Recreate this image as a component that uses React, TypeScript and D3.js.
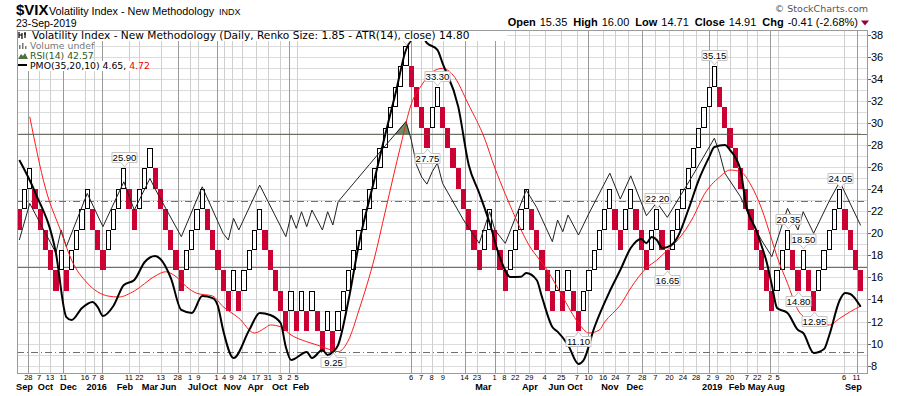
import React from 'react';
import * as d3 from 'd3';

// Renko bricks: close of every brick (size 1.85), the first one opens at 22.20
const firstOpen = 22.2;
const brickSize = 1.85;
const brickCloses = [
  20.35, 24.05, 25.9, 22.2, 20.35, 18.5, 16.65, 14.8, 18.5, 14.8,
  18.5, 20.35, 22.2, 24.05, 20.35, 18.5, 16.65, 20.35, 22.2, 24.05,
  25.9, 22.2, 20.35, 24.05, 25.9, 27.75, 24.05, 22.2, 20.35, 18.5,
  16.65, 14.8, 18.5, 20.35, 22.2, 24.05, 20.35, 18.5, 16.65, 14.8,
  12.95, 16.65, 12.95, 16.65, 18.5, 20.35, 22.2, 18.5, 16.65, 14.8,
  12.95, 11.1, 14.8, 11.1, 14.8, 11.1, 14.8, 11.1, 9.25, 12.95,
  9.25, 12.95, 14.8, 16.65, 18.5, 20.35, 22.2, 24.05, 25.9, 27.75,
  29.6, 31.45, 33.3, 35.15, 37.0, 33.3, 31.45, 29.6, 27.75, 31.45,
  33.3, 29.6, 27.75, 25.9, 24.05, 22.2, 20.35, 18.5, 16.65, 20.35,
  22.2, 18.5, 16.65, 14.8, 18.5, 20.35, 22.2, 24.05, 20.35, 18.5,
  16.65, 14.8, 12.95, 16.65, 12.95, 16.65, 12.95, 11.1, 14.8, 16.65,
  18.5, 20.35, 22.2, 24.05, 20.35, 18.5, 22.2, 24.05, 20.35, 18.5,
  16.65, 20.35, 22.2, 18.5, 16.65, 20.35, 22.2, 24.05, 25.9, 27.75,
  29.6, 31.45, 33.3, 35.15, 31.45, 29.6, 27.75, 25.9, 24.05, 22.2,
  20.35, 18.5, 16.65, 14.8, 12.95, 16.65, 18.5, 20.35, 16.65, 14.8,
  18.5, 14.8, 12.95, 16.65, 18.5, 20.35, 22.2, 24.05, 20.35, 18.5,
  16.65, 14.8,
];

// [brick number, value]
const rsiPoints: [number, number][] = [
  [1, 38.2], [3, 49.2], [8, 34.3], [9, 41.2], [10, 36.2], [14, 52.2], [17, 42.2],
  [21, 55.7], [23, 47.2], [26, 56.7], [27, 53.5], [32, 39.2], [36, 54.2], [40, 40.2],
  [41, 38.2], [42, 44.7], [43, 41.2], [47, 54.7], [52, 39.2], [53, 45.7], [54, 41.7],
  [55, 46.7], [56, 42.2], [57, 47.2], [59, 41.2], [60, 46.7], [61, 42.7], [62, 49.7],
  [65, 55.3], [68, 60.9], [71, 66.5], [75, 73.8], [76, 68.3], [77, 60.8], [78, 57.1],
  [79, 55.0], [80, 58.7], [81, 61.3], [82, 55.2], [86, 44.2], [89, 37.2], [91, 46.7],
  [92, 41.2], [94, 37.2], [98, 53.2], [100, 48.0], [103, 37.7], [104, 44.2], [105, 40.7],
  [106, 45.7], [108, 39.7], [110, 46.2], [114, 58.3], [116, 50.5], [118, 57.5],
  [121, 45.5], [123, 49.5], [125, 45.0], [130, 58.0], [134, 68.8], [135, 64.3],
  [136, 58.3], [139, 51.2], [141, 44.2], [143, 38.2], [145, 33.2], [148, 47.7],
  [150, 41.2], [151, 46.7], [153, 40.2], [156, 50.0], [158, 55.7], [162, 42.57],
];

const pmoPoints: [number, number][] = [
  [1, 19.8], [4, 16.5], [8, 10.2], [10, 3.58], [11, 3.27], [13, 4.51], [15, 5.13],
  [16, 4.62], [17, 3.69], [19, 4.72], [21, 6.89], [23, 7.41], [25, 9.27], [27, 9.89],
  [28, 9.58], [30, 7.61], [32, 4.31], [34, 4.0], [36, 5.75], [38, 5.54], [39, 4.72],
  [40, 2.24], [42, -0.65], [45, 2.24], [47, 4.0], [49, 3.79], [51, 2.96], [52, 0.49],
  [53, -0.86], [56, -0.03], [57, -0.65], [59, 0.18], [60, -0.34], [61, -0.03],
  [62, 0.69], [64, 5.34], [66, 11.2], [69, 17.9], [71, 22.4], [73, 26.7], [75, 31.2],
  [77, 32.6], [78, 32.6], [79, 31.9], [81, 31.2], [82, 29.8], [85, 25.3], [87, 19.3],
  [89, 16.4], [91, 13.3], [93, 9.68], [95, 7.72], [97, 7.75], [98, 8.13], [100, 7.41],
  [101, 5.68], [103, 2.55], [104, 2.07], [106, 0.69], [108, -1.27], [109, -0.86],
  [111, 2.45], [114, 6.27], [116, 8.44], [118, 10.71], [120, 11.64], [121, 11.23],
  [122, 11.85], [123, 11.54], [124, 10.71], [126, 11.13], [127, 11.88], [129, 14.64],
  [131, 17.74], [133, 20.11], [134, 21.15], [136, 21.35], [137, 20.84], [139, 18.77],
  [140, 15.36], [142, 12.57], [143, 11.0], [144, 9.27], [145, 6.89], [146, 4.51],
  [148, 4.0], [150, 2.24], [151, 1.93], [153, -0.13], [155, 0.28], [156, 1.73],
  [158, 5.34], [159, 6.06], [160, 5.96], [161, 5.44], [162, 4.65],
];

const signalPoints: [number, number][] = [
  [3, 24.28], [6, 16.9], [9, 12.37], [11, 9.47], [14, 7.1], [18, 5.75], [20, 5.65],
  [23, 6.27], [27, 7.82], [29, 8.26], [31, 7.75], [33, 6.71], [35, 6.03], [38, 5.75],
  [40, 4.65], [43, 3.48], [46, 1.93], [48, 2.45], [49, 2.76], [51, 2.58], [53, 1.73],
  [56, 1.03], [58, 0.69], [61, 0.12], [62, 0.0], [64, 1.21], [66, 4.31], [69, 9.78],
  [71, 14.43], [74, 21.35], [76, 25.59], [78, 27.55], [80, 28.9], [82, 29.28],
  [84, 28.58], [87, 25.49], [90, 22.08], [92, 18.98], [93, 17.6], [95, 15.0],
  [97, 12.6], [99, 10.6], [100, 9.89], [102, 8.44], [105, 5.65], [108, 2.96],
  [110, 1.93], [112, 2.24], [113, 3.06], [116, 4.82], [118, 6.58], [121, 8.65],
  [123, 9.47], [125, 10.5], [127, 11.54], [130, 13.95], [132, 16.19], [135, 18.05],
  [137, 18.77], [139, 18.6], [141, 17.22], [143, 14.84], [145, 11.54], [146, 9.81],
  [148, 7.07], [150, 4.31], [152, 3.27], [154, 2.76], [156, 2.76], [158, 3.45],
  [160, 4.13], [162, 4.72],
];

// [brick number, text, above/below]; the 37.00 box sits under the legend, only its tip shows
const brickLabels: [number, string, 'above' | 'below'][] = [
  [21, '25.90', 'above'], [61, '9.25', 'below'], [75, '', 'above'],
  [79, '27.75', 'below'], [81, '33.30', 'above'], [108, '11.10', 'below'],
  [123, '22.20', 'above'], [125, '16.65', 'below'], [134, '35.15', 'above'],
  [148, '20.35', 'above'], [150, '14.80', 'below'], [151, '18.50', 'above'],
  [153, '12.95', 'below'], [158, '24.05', 'above'],
];

// [brick position, day, major grid line]
const dayTicks: [number, string, boolean][] = [
  [2.72, '28', true], [4.77, '7', false], [6.87, '13', false], [9.42, '11', true],
  [13.57, '16', false], [15.29, '7', false], [16.77, '8', true], [21.99, '11', false],
  [23.96, '22', false], [28.06, '13', false], [31.31, '28', true], [33.66, '1', false],
  [35.25, '9', false], [38.77, '1', true], [40.17, '4', false], [41.64, '9', false],
  [43.67, '24', false], [46.29, '17', false], [48.53, '31', false], [50.89, '3', false],
  [52.67, '2', true], [54.08, '5', false], [75.95, '6', true], [77.87, '7', false],
  [79.91, '8', false], [82.02, '9', false], [86.19, '14', true], [88.57, '23', false],
  [91.94, '1', true], [93.8, '8', false], [95.9, '22', false], [98.58, '29', false],
  [101.5, '4', false], [104.7, '25', false], [107.7, '7', false], [109.9, '10', true],
  [112.7, '16', false], [115.06, '24', false], [117.5, '7', false], [120.2, '28', true],
  [122.7, '7', false], [125.4, '20', false], [128, '24', false], [130.5, '28', false],
  [132.9, '2', true], [134.5, '9', false], [137, '20', false], [140.2, '7', false],
  [142.2, '22', false], [144.6, '2', true], [146.1, '5', false], [158.8, '6', false],
  [161.2, '11', true],
];

const monthTicks: [number, string][] = [
  [2, 'Sep'], [6, 'Oct'], [10.4, 'Dec'], [15.8, '2016'], [21.2, 'Feb'], [26, 'Mar'],
  [29.5, 'Jun'], [34.5, 'Jul'], [37.4, 'Oct'], [41.8, 'Nov'], [46.2, 'Apr'], [50.8, 'Oct'],
  [54.9, 'Feb'], [89.8, 'Mar'], [98.7, 'Apr'], [103.8, 'Jun'], [107.3, 'Oct'], [114, 'Nov'],
  [118.8, 'Dec'], [133.6, '2019'], [138.3, 'Feb'], [142.1, 'May'], [145.8, 'Aug'],
  [160.6, 'Sep'],
];

const priceTicks = [8, 10, 12, 14, 16, 18, 20, 22, 24, 26, 28, 30, 32, 34, 36, 38];

const quote: [string, string][] = [
  ['Open', '15.35'], ['High', '16.00'], ['Low', '14.71'], ['Close', '14.91'], ['Chg', '-0.41 (-2.68%)'],
];

const plot = { left: 17, right: 868, top: 30, bottom: 374 };
const RED = '#cc0033';
const ARIAL = 'Arial, "Liberation Sans", sans-serif';
const VERD = '"DejaVu Sans", Verdana, sans-serif';

export default function App() {
  const n = brickCloses.length;
  const x = d3.scaleLinear().domain([1, n + 1]).range([16.7, 863.3]);
  const y = d3.scaleLinear().domain([8, 38]).range([365.6, 35]);
  const yRsi = d3.scaleLinear().domain([0, 100]).range([367, 34.5]);
  const yPmo = d3.scaleLinear().domain([0, 4.65]).range([351.7, 306.7]);
  const cx = (i: number) => x(i) + (x(2) - x(1)) / 2;

  const bricks = brickCloses.map((c, k) => {
    const prev = k === 0 ? firstOpen : brickCloses[k - 1];
    const up = c > prev;
    return { i: k + 1, up, top: up ? c : c + brickSize, bottom: up ? c - brickSize : c };
  });

  const rsiLine = d3.line<[number, number]>().x((d) => cx(d[0])).y((d) => yRsi(d[1]));
  const rsiArea = d3
    .area<[number, number]>()
    .x((d) => cx(d[0]))
    .y0(yRsi(70))
    .y1((d) => yRsi(d[1]));
  const pmoLine = d3
    .line<[number, number]>()
    .x((d) => cx(d[0]))
    .y((d) => yPmo(d[1]))
    .curve(d3.curveMonotoneX);

  const gridPrices = d3.range(8, 39);

  return (
    <svg
      width={900}
      height={396}
      style={{ position: 'absolute', left: 0, top: 0, background: '#fff' }}
    >
      <defs>
        <clipPath id="plotClip">
          <rect x={plot.left} y={plot.top} width={plot.right - plot.left} height={plot.bottom - plot.top} />
        </clipPath>
        <clipPath id="above70">
          <rect x={plot.left} y={plot.top} width={plot.right - plot.left} height={yRsi(70) - plot.top} />
        </clipPath>
      </defs>

      {/* header */}
      <text x={16} y={15} fontFamily={ARIAL} fontSize={15} fontWeight="bold">$VIX</text>
      <text x={49} y={15} fontFamily={ARIAL} fontSize={10.8}>Volatility Index - New Methodology</text>
      <text x={219} y={15} fontFamily={ARIAL} fontSize={9}>INDX</text>
      <text x={16} y={26.5} fontFamily={ARIAL} fontSize={10.5}>23-Sep-2019</text>
      <text x={868} y={12} textAnchor="end" fontFamily={VERD} fontSize={9.5} fill="#555">© StockCharts.com</text>
      <text x={858} y={26} textAnchor="end" fontFamily={ARIAL} fontSize={11}>
        {quote.map(([k, v], j) => (
          <React.Fragment key={k}>
            <tspan fontWeight="900" dx={j === 0 ? 0 : 6}>{k}</tspan>
            <tspan dx={4}>{v}</tspan>
          </React.Fragment>
        ))}
      </text>
      <path d="M861,20.5 L869,20.5 L865,25.5 Z" fill="#990033" />

      <g clipPath="url(#plotClip)">
        {gridPrices.map((p) => (
          <line key={'h' + p} x1={plot.left} x2={plot.right} y1={Math.round(y(p)) + 0.5} y2={Math.round(y(p)) + 0.5} stroke="#dcdcdc" />
        ))}
        {dayTicks.map(([b, , major]) => (
          <line
            key={'v' + b}
            x1={Math.round(cx(b)) + 0.5}
            x2={Math.round(cx(b)) + 0.5}
            y1={plot.top}
            y2={plot.bottom}
            stroke={major ? '#9a9a9a' : '#cfcfcf'}
          />
        ))}
        {[70, 30].map((r) => (
          <line key={'r' + r} x1={plot.left} x2={plot.right} y1={Math.round(yRsi(r)) + 0.5} y2={Math.round(yRsi(r)) + 0.5} stroke="#707070" />
        ))}
        <line x1={plot.left} x2={plot.right} y1={Math.round(yRsi(50)) + 0.5} y2={Math.round(yRsi(50)) + 0.5} stroke="#707070" strokeDasharray="7,3,1,3" />
        <line x1={plot.left} x2={plot.right} y1={Math.round(yPmo(0)) + 0.5} y2={Math.round(yPmo(0)) + 0.5} stroke="#707070" strokeDasharray="7,3,1,3" />

        {bricks.map((b) => {
          const l = Math.round(x(b.i));
          const r = Math.round(x(b.i + 1));
          const t = Math.round(y(b.top));
          const bt = Math.round(y(b.bottom));
          return b.up ? (
            <rect key={b.i} x={l + 0.5} y={t + 0.5} width={r - l - 1} height={bt - t - 1} fill="#fff" stroke="#000" />
          ) : (
            <rect key={b.i} x={l} y={t} width={r - l} height={bt - t} fill={RED} />
          );
        })}

        {/* overlays */}
        <path d={rsiArea(rsiPoints) || ''} clipPath="url(#above70)" fill="#6e9060" stroke="#3d5a32" strokeWidth={0.8} />
        <path d={rsiLine(rsiPoints) || ''} fill="none" stroke="#222" strokeWidth={1} />
        <path d={pmoLine(signalPoints) || ''} fill="none" stroke="#ff1a1a" strokeWidth={1} />
        <path d={pmoLine(pmoPoints) || ''} fill="none" stroke="#000" strokeWidth={2} />

        {brickLabels.map(([b, txt, pos]) => {
          const br = bricks[b - 1];
          const c = Math.round(cx(b)) + 0.5;
          const w = 25;
          const h = 10;
          const x0 = c - w / 2;
          const x1 = c + w / 2;
          if (pos === 'above') {
            const tip = Math.round(y(br.top)) - 1;
            const by1 = tip - 4.5;
            const by0 = by1 - h;
            return (
              <g key={'l' + b}>
                <path d={`M${x0},${by0}H${x1}V${by1}H${c + 3.5}L${c},${tip}L${c - 3.5},${by1}H${x0}Z`} fill="#fff" stroke="#c4c4c4" />
                {txt && <text x={c} y={by1 - 2} textAnchor="middle" fontFamily={ARIAL} fontSize={9.5}>{txt}</text>}
              </g>
            );
          }
          const tip = Math.round(y(br.bottom)) + 1;
          const by0 = tip + 4.5;
          const by1 = by0 + h;
          return (
            <g key={'l' + b}>
              <path d={`M${x0},${by0}H${c - 3.5}L${c},${tip}L${c + 3.5},${by0}H${x1}V${by1}H${x0}Z`} fill="#fff" stroke="#c4c4c4" />
              <text x={c} y={by1 - 2} textAnchor="middle" fontFamily={ARIAL} fontSize={9.5}>{txt}</text>
            </g>
          );
        })}

        {/* legend */}
        <rect x={plot.left} y={plot.top} width={490} height={11} fill="#fff" />
        <rect x={plot.left} y={plot.top + 11} width={77} height={10} fill="#fff" />
        <rect x={plot.left} y={plot.top + 21} width={74} height={10} fill="#fff" />
        <rect x={plot.left} y={plot.top + 31} width={116} height={10} fill="#fff" />
        <path d="M19,32 V38 M19,35 H22 M22,33 V39 M25,32 V38 M24,34 H26" stroke="#000" strokeWidth={1.2} fill="none" />
        <text x={32} y={39} fontFamily={VERD} fontSize={10.6}>
          Volatility Index - New Methodology (Daily, Renko Size: 1.85 - ATR(14), close) 14.80
        </text>
        <path d="M19,49 V45 H20.5 V49 M22,49 V43 H23.5 V49 M25,49 V46 H26.5 V49" fill="#777" />
        <text x={30} y={49} fontFamily={VERD} fontSize={9.3} fill="#777">Volume undef</text>
        <path d="M18,59 L21,54 L23,56 L25,53 L28,59 Z" fill="#4f6f45" />
        <text x={30} y={58.5} fontFamily={VERD} fontSize={9.3} fill="#2d5a1e">RSI(14) 42.57</text>
        <rect x={18} y={64} width={9} height={2} fill="#000" />
        <text x={30} y={68.5} fontFamily={VERD} fontSize={9.3}>
          PMO(35,20,10) 4.65, <tspan fill="#e00">4.72</tspan>
        </text>
      </g>

      <rect x={plot.left + 0.5} y={plot.top + 0.5} width={plot.right - plot.left - 1} height={plot.bottom - plot.top - 1} fill="none" stroke="#9a9a9a" />

      {priceTicks.map((p) => (
        <g key={'p' + p}>
          <line x1={plot.right} x2={plot.right + 3} y1={Math.round(y(p)) + 0.5} y2={Math.round(y(p)) + 0.5} stroke="#666" />
          <text x={871} y={y(p) + 4} fontFamily={ARIAL} fontSize={11}>{p}</text>
        </g>
      ))}

      {dayTicks.map(([b, t]) => (
        <text key={'d' + b} x={cx(b)} y={380} textAnchor="middle" fontFamily={ARIAL} fontSize={7.5}>{t}</text>
      ))}
      {monthTicks.map(([b, t]) => (
        <text key={'m' + b} x={cx(b)} y={390} textAnchor="middle" fontFamily={ARIAL} fontSize={9.2} fontWeight="bold">{t}</text>
      ))}
    </svg>
  );
}
